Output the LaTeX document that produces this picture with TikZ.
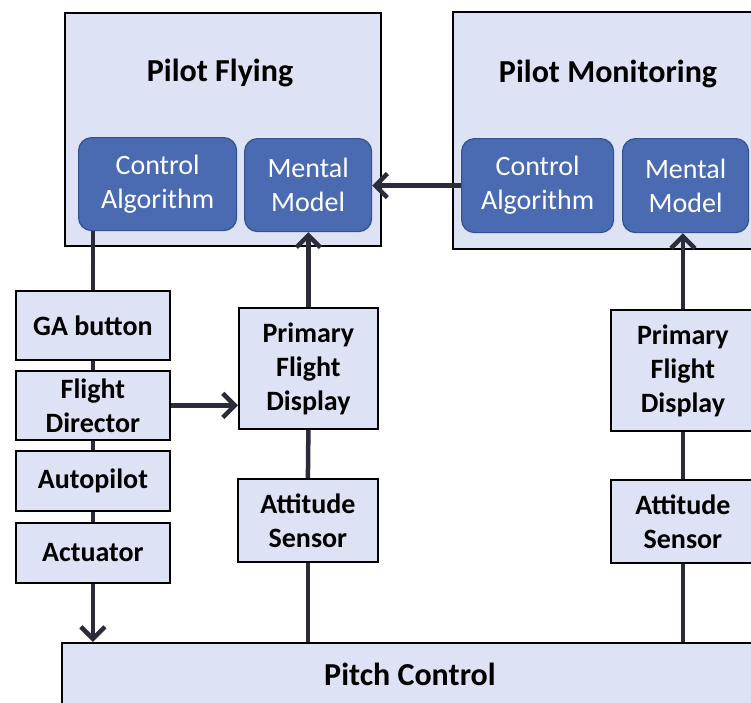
\documentclass[tikz,border=0pt]{standalone}
\usepackage{fontspec}
\setmainfont{Carlito}
\usetikzlibrary{arrows.meta}
\definecolor{lightfill}{HTML}{DDE3F4}
\definecolor{darkfill}{HTML}{4A6BB2}
\definecolor{darkedge}{HTML}{33518F}
\definecolor{wire}{HTML}{2B2B3A}
\tikzset{
  lbox/.style={draw=black, line width=1.8pt, fill=lightfill, anchor=north west, inner sep=0pt,
    align=center, font=\fontsize{28}{34}\selectfont\bfseries, text=black},
  dbox/.style={draw=darkedge, line width=1.2pt, fill=darkfill, rounded corners=13pt, anchor=north west,
    inner sep=0pt, align=center, font=\fontsize{28}{34}\selectfont, text=white},
  ttl/.style={font=\fontsize{32}{36}\selectfont\bfseries, text=black},
  wireline/.style={draw=wire, line width=4.5pt},
  wirearrow/.style={draw=wire, line width=4.5pt, -{Straight Barb[length=12pt,width=24pt,line width=4.5pt]}},
}
\begin{document}
\begin{tikzpicture}[x=1pt,y=-1pt]
\useasboundingbox (0,0) rectangle (751,702);
\clip (0,0) rectangle (751,702);
\fill[white] (0,0) rectangle (751,702);
% outer pilot boxes
\node[lbox, minimum width=316pt, minimum height=233pt] (pf) at (64,12) {};
\node[ttl] (pftitle) at (220,73) {Pilot Flying};
\node[lbox, minimum width=340pt, minimum height=237pt] (pm) at (452,11) {};
\node[ttl] (pmtitle) at (608,74) {Pilot Monitoring};
% dark boxes
\node[dbox, minimum width=158pt, minimum height=93pt] (pfca) at (78,137) {Control\\Algorithm};
\node[dbox, minimum width=127pt, minimum height=93pt] (pfmm) at (244,138) {Mental\\Model};
\node[dbox, minimum width=152pt, minimum height=94pt] (pmca) at (461,138) {Control\\Algorithm};
\node[dbox, minimum width=126pt, minimum height=94pt] (pmmm) at (622,138) {Mental\\Model};
% left column
\node[lbox, minimum width=154pt, minimum height=69pt] (ga) at (15,290) {GA button};
\node[lbox, minimum width=154pt, minimum height=69pt] (fd) at (15,370) {Flight\\Director};
\node[lbox, minimum width=154pt, minimum height=60pt] (ap) at (15,450) {Autopilot};
\node[lbox, minimum width=154pt, minimum height=60pt] (ac) at (15,522) {Actuator};
% middle column
\node[lbox, minimum width=139pt, minimum height=121pt] (pfd1) at (238,307) {Primary\\Flight\\Display};
\node[lbox, minimum width=140pt, minimum height=83pt] (as1) at (237,478) {Attitude\\Sensor};
% right column
\node[lbox, minimum width=144pt, minimum height=121pt] (pfd2) at (610,309) {Primary\\Flight\\Display};
\node[lbox, minimum width=144pt, minimum height=83pt] (as2) at (610,479) {Attitude\\Sensor};
% pitch control
\node[lbox, minimum width=800pt, minimum height=100pt] (pc) at (61,642) {};
\node[ttl] (pclabel) at (410,674) {Pitch Control};
% connectors
\draw[wireline] (pfca.south -| ga.north) -- (ga.north);
\draw[wireline] (ga.south) -- (fd.north);
\draw[wireline] (fd.south) -- (ap.north);
\draw[wireline] (ap.south) -- (ac.north);
\draw[wirearrow] (ac.south) -- (ac.south |- pc.north);
\draw[wirearrow] (fd.east) -- (fd.east -| pfd1.west);
\draw[wireline] (as1.south |- pc.north) -- (as1.south);
\draw[wireline] (as1.north) -- (pfd1.south);
\draw[wirearrow] (pfd1.north) -- (pfd1.north |- pfmm.south);
\draw[wireline] (pfd2.north |- pc.north) -- (pfd2.north |- as2.south);
\draw[wireline] (pfd2.north |- as2.north) -- (pfd2.north |- pfd2.south);
\draw[wirearrow] (pfd2.north) -- (pfd2.north |- pmmm.south);
\draw[wirearrow] (pmca.west) -- (pmca.west -| pfmm.east);
\end{tikzpicture}
\end{document}
